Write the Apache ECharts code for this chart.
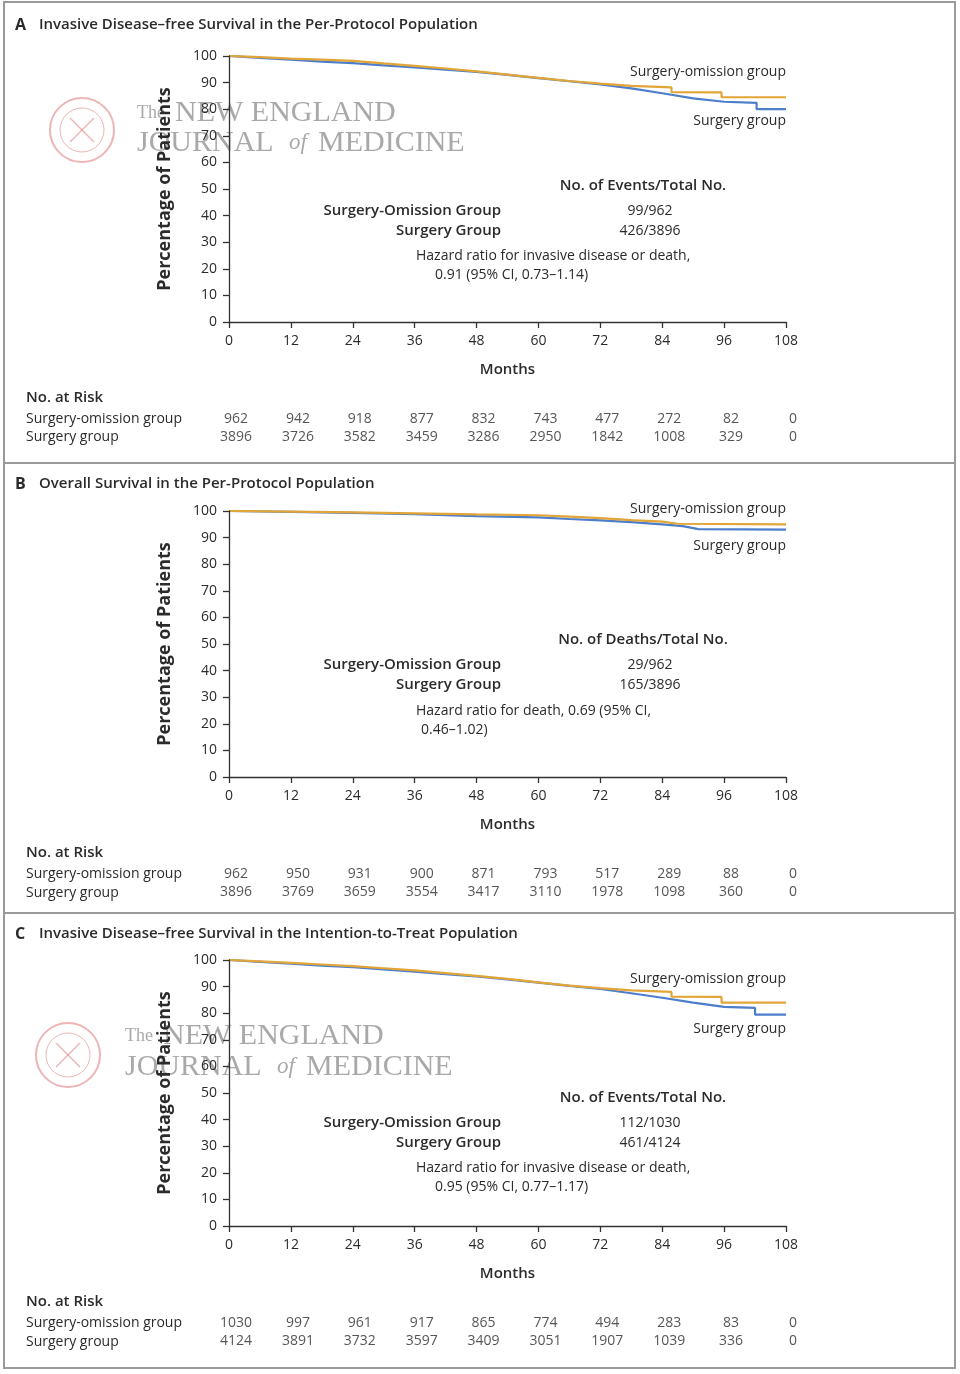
<!DOCTYPE html>
<html><head><meta charset="utf-8">
<script src="https://cdn.jsdelivr.net/npm/echarts@6/dist/echarts.min.js"></script>
<style>html,body{margin:0;padding:0;background:#fff;}#c{width:960px;height:1374px;}</style>
</head><body><div id="c"></div>
<script>
// ---------- data ----------
const riskMonths = [0,12,24,36,48,60,72,84,96,108];

// Panel A: invasive disease-free survival, per-protocol  [month, %]
const kmA_omission = [[0,100],[6,99.6],[12,99.0],[18,98.6],[24,98.2],[30,97.2],[36,96.3],[42,95.3],[48,94.2],[54,93.0],[60,91.8],[66,90.6],[72,89.6],[78,88.8],[85.8,88.2],[85.8,86.4],[95.5,86.3],[95.5,84.5],[108,84.5]];
const kmA_surgery = [[0,100],[6,99.3],[12,98.6],[18,97.9],[24,97.3],[30,96.5],[36,95.7],[42,94.9],[48,94.0],[54,92.9],[60,91.7],[66,90.5],[72,89.3],[78,87.8],[84,86.0],[90,84.1],[96,82.8],[102.3,82.4],[102.3,80.0],[108,80.0]];
const riskA_omission = [962,942,918,877,832,743,477,272,82,0];
const riskA_surgery = [3896,3726,3582,3459,3286,2950,1842,1008,329,0];

// Panel B: overall survival, per-protocol
const kmB_omission = [[0,100],[12,99.8],[24,99.5],[36,99.1],[48,98.7],[60,98.4],[66,97.9],[72,97.3],[78,96.6],[84,96.0],[87,95.2],[108,95.0]];
const kmB_surgery = [[0,100],[12,99.7],[24,99.3],[36,98.8],[48,98.1],[60,97.6],[66,97.0],[72,96.5],[78,95.8],[84,95.0],[88,94.3],[91,93.2],[108,93.0]];
const riskB_omission = [962,950,931,900,871,793,517,289,88,0];
const riskB_surgery = [3896,3769,3659,3554,3417,3110,1978,1098,360,0];

// Panel C: invasive disease-free survival, intention-to-treat
const kmC_omission = [[0,100],[6,99.5],[12,98.9],[18,98.3],[24,97.7],[30,96.9],[36,96.1],[42,95.1],[48,94.0],[54,92.9],[60,91.6],[66,90.4],[72,89.4],[78,88.6],[85.8,88.0],[85.8,86.2],[95.5,86.1],[95.5,84.0],[108,84.0]];
const kmC_surgery = [[0,100],[6,99.3],[12,98.6],[18,97.9],[24,97.3],[30,96.5],[36,95.6],[42,94.7],[48,93.8],[54,92.7],[60,91.5],[66,90.3],[72,89.1],[78,87.5],[84,85.8],[90,84.0],[96,82.4],[102,82.0],[102,79.5],[108,79.5]];
const riskC_omission = [1030,997,961,917,865,774,494,283,83,0];
const riskC_surgery = [4124,3891,3732,3597,3409,3051,1907,1039,336,0];

const groupNames = ['Surgery-omission group','Surgery group'];

// ---------- styling ----------
const FONT = '"Open Sans", "Noto Sans", sans-serif';
const TXT = '#2b2b2b';
const ORANGE = '#E2A537';
const BLUE = '#4C7ECB';

const panels = [
  {top:56, km:[kmA_omission,kmA_surgery], risk:[riskA_omission,riskA_surgery], riskTop:410},
  {top:511, km:[kmB_omission,kmB_surgery], risk:[riskB_omission,riskB_surgery], riskTop:865},
  {top:960, km:[kmC_omission,kmC_surgery], risk:[riskC_omission,riskC_surgery], riskTop:1314}
];

const grid=[], xAxis=[], yAxis=[], series=[];
panels.forEach((p,i)=>{
  grid.push({left:229, top:p.top, width:557, height:266});
  xAxis.push({type:'value', gridIndex:2*i, min:0, max:108, interval:12,
    name:'Months', nameLocation:'middle', nameGap:40,
    nameTextStyle:{fontFamily:FONT, fontSize:15, fontWeight:600, color:TXT},
    axisLine:{lineStyle:{color:'#333', width:1.3}},
    axisTick:{show:true, inside:false, length:6, lineStyle:{color:'#333', width:1.3}},
    axisLabel:{fontFamily:FONT, fontSize:14, color:TXT, margin:12},
    splitLine:{show:false}});
  yAxis.push({type:'value', gridIndex:2*i, min:0, max:100, interval:10,
    name:'Percentage of Patients', nameLocation:'middle', nameGap:55, nameRotate:90,
    nameTextStyle:{fontFamily:FONT, fontSize:18, fontWeight:700, color:TXT},
    axisLine:{show:true, lineStyle:{color:'#333', width:1.3}},
    axisTick:{show:true, length:6, lineStyle:{color:'#333', width:1.3}},
    axisLabel:{fontFamily:FONT, fontSize:14, color:TXT, margin:12},
    splitLine:{show:false}, z:5});
  // risk table grid
  grid.push({left:229, top:p.riskTop, width:557, height:36});
  xAxis.push({type:'value', gridIndex:2*i+1, min:0, max:108, show:false});
  yAxis.push({type:'category', gridIndex:2*i+1, data:groupNames, inverse:true, show:false});
  // curves
  [[p.km[1],BLUE,'Surgery group'],[p.km[0],ORANGE,'Surgery-omission group']].forEach(([d,c,n])=>{
    series.push({type:'line', name:n, xAxisIndex:2*i, yAxisIndex:2*i, data:d, showSymbol:false,
      lineStyle:{color:c, width:2.2}, itemStyle:{color:c}, z:3, animation:false});
  });
  // risk numbers
  p.risk.forEach((arr,r)=>{
    series.push({type:'scatter', xAxisIndex:2*i+1, yAxisIndex:2*i+1, symbolSize:0, animation:false,
      data: arr.map((v,k)=>[riskMonths[k], groupNames[r], v]),
      label:{show:true, position:'inside', offset:[7,0], formatter:q=>String(q.value[2]),
        fontFamily:FONT, fontSize:14, color:TXT}});
  });
});

// ---------- annotations ----------
function T(x,y,text,opt){return Object.assign({type:'text', x:x, y:y, z:10,
  style:Object.assign({text:text, fontFamily:FONT, fontSize:14, fill:TXT, textVerticalAlign:'middle'}, opt||{})});}
const g = [];
// frame
const frameStyle = {stroke:'#9a9a9a', lineWidth:2, fill:null};
g.push({type:'rect', shape:{x:4,y:2,width:951,height:1366}, style:frameStyle, z:1});
g.push({type:'line', shape:{x1:4,y1:463,x2:955,y2:463}, style:{stroke:'#9a9a9a', lineWidth:2}, z:1});
g.push({type:'line', shape:{x1:4,y1:913,x2:955,y2:913}, style:{stroke:'#9a9a9a', lineWidth:2}, z:1});

const titles = [
  [25,'A','Invasive Disease–free Survival in the Per-Protocol Population'],
  [484,'B','Overall Survival in the Per-Protocol Population'],
  [934,'C','Invasive Disease–free Survival in the Intention-to-Treat Population']];
titles.forEach(([y,l,t])=>{
  g.push(T(15,y,l,{fontSize:16, fontWeight:700}));
  g.push(T(39,y,t,{fontSize:15, fontWeight:600}));
});

const ann = [
  {lab1:72, lab2:121, head:186, headTxt:'No. of Events/Total No.', r1:211, r2:231, v1:'99/962', v2:'426/3896',
   h1:'Hazard ratio for invasive disease or death,', h2:'0.91 (95% CI, 0.73–1.14)', hy:256, h2x:435, nar:398, rr1:419, rr2:437},
  {lab1:509, lab2:546, head:640, headTxt:'No. of Deaths/Total No.', r1:665, r2:685, v1:'29/962', v2:'165/3896',
   h1:'Hazard ratio for death, 0.69 (95% CI,', h2:'0.46–1.02)', hy:711, h2x:421, nar:853, rr1:874, rr2:893},
  {lab1:979, lab2:1029, head:1098, headTxt:'No. of Events/Total No.', r1:1123, r2:1143, v1:'112/1030', v2:'461/4124',
   h1:'Hazard ratio for invasive disease or death,', h2:'0.95 (95% CI, 0.77–1.17)', hy:1168, h2x:435, nar:1302, rr1:1323, rr2:1342}];
ann.forEach(a=>{
  g.push(T(786,a.lab1,'Surgery-omission group',{textAlign:'right'}));
  g.push(T(786,a.lab2,'Surgery group',{textAlign:'right'}));
  g.push(T(643,a.head,a.headTxt,{textAlign:'center', fontSize:15, fontWeight:600}));
  g.push(T(501,a.r1,'Surgery-Omission Group',{textAlign:'right', fontSize:15, fontWeight:600}));
  g.push(T(501,a.r2,'Surgery Group',{textAlign:'right', fontSize:15, fontWeight:600}));
  g.push(T(650,a.r1,a.v1,{textAlign:'center'}));
  g.push(T(650,a.r2,a.v2,{textAlign:'center'}));
  g.push(T(416,a.hy,a.h1,{}));
  g.push(T(a.h2x,a.hy+19,a.h2,{}));
  g.push(T(26,a.nar,'No. at Risk',{fontSize:15, fontWeight:600}));
  g.push(T(26,a.rr1,'Surgery-omission group',{}));
  g.push(T(26,a.rr2,'Surgery group',{}));
});

// watermarks
function watermark(cx,cy,tx,ty1,ty2){
  const pink='rgba(222,120,120,0.55)';
  g.push({type:'circle', shape:{cx:cx,cy:cy,r:32}, style:{stroke:pink, lineWidth:2, fill:null}, z:0});
  g.push({type:'circle', shape:{cx:cx,cy:cy,r:22}, style:{stroke:pink, lineWidth:1, fill:null}, z:0});
  g.push({type:'line', shape:{x1:cx-12,y1:cy+12,x2:cx+12,y2:cy-12}, style:{stroke:pink, lineWidth:1.5}, z:0});
  g.push({type:'line', shape:{x1:cx-12,y1:cy-12,x2:cx+12,y2:cy+12}, style:{stroke:pink, lineWidth:1.5}, z:0});
  const grey='rgba(140,140,140,0.75)';
  const SERIF='"Liberation Serif", "DejaVu Serif", serif';
  g.push({type:'text', x:tx, y:ty1, z:0, style:{text:'The', fontFamily:SERIF, fontSize:18, fill:grey, textVerticalAlign:'middle'}});
  g.push({type:'text', x:tx+38, y:ty1, z:0, style:{text:'NEW ENGLAND', fontFamily:SERIF, fontSize:30, fill:grey, textVerticalAlign:'middle'}});
  g.push({type:'text', x:tx, y:ty2, z:0, style:{text:'JOURNAL', fontFamily:SERIF, fontSize:30, fill:grey, textVerticalAlign:'middle'}});
  g.push({type:'text', x:tx+152, y:ty2, z:0, style:{text:'of', fontFamily:SERIF, fontSize:23, fontStyle:'italic', fill:grey, textVerticalAlign:'middle'}});
  g.push({type:'text', x:tx+181, y:ty2, z:0, style:{text:'MEDICINE', fontFamily:SERIF, fontSize:30, fill:grey, textVerticalAlign:'middle'}});
}
watermark(82,130,137,113,143);
watermark(68,1055,125,1036,1067);

const chart = echarts.init(document.getElementById('c'), null, {renderer:'canvas'});
chart.setOption({animation:false, backgroundColor:'#fff', grid, xAxis, yAxis, series, graphic:g});
</script></body></html>
